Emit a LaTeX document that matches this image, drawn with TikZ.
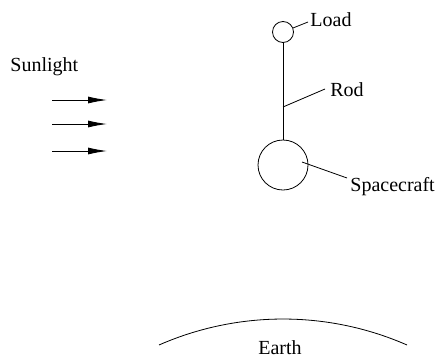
\documentclass[tikz,border=0pt]{standalone}
\usepackage{fontspec}
\setmainfont{Liberation Serif}
\usetikzlibrary{arrows.meta}
\begin{document}
\begin{tikzpicture}[x=1pt,y=-1pt,line width=0.8pt,
  lbl/.style={anchor=base west,inner sep=0pt,font=\fontsize{20}{24}\selectfont},
  ball/.style={circle,draw,inner sep=0pt},
  ray/.style={-{Latex[length=19pt,width=7pt]},line width=0.9pt}]
\useasboundingbox (0,0) rectangle (443,359);

% spacecraft with its tethered load
\node[ball,minimum size=21pt] (load) at (283,32) {};
\node[ball,minimum size=50pt] (craft) at (283,165) {};
\draw (load.south) -- (craft.north);

% labels with leader lines
\node[lbl] (loadlbl) at (310,26) {Load};
\node[lbl] (rodlbl) at (330,96) {Rod};
\node[lbl] (craftlbl) at (350,191) {Spacecraft};
\coordinate (loadtip) at (293,28);
\coordinate (loadend) at (308,22);
\coordinate (rodpt) at (283,107);
\coordinate (rodend) at (325,89);
\coordinate (craftpt) at (302,162);
\coordinate (craftend) at (347,178);
\draw (loadtip) -- (loadend);
\draw (rodpt) -- (rodend);
\draw (craftpt) -- (craftend);

% incoming sunlight
\node[lbl] (sun) at (10,71) {Sunlight};
\foreach \yy [count=\i] in {100,124,151} {
  \coordinate (s\i) at (52,\yy);
  \coordinate (e\i) at (107,\yy);
  \draw[ray] (s\i) -- (e\i);
}

% limb of the Earth
\coordinate (earthc) at (283,628);
\draw (earthc) ++(246.34:309) arc[start angle=246.34,end angle=293.66,radius=309];
\node[lbl,anchor=base] (earth) at (280,354) {Earth};
\end{tikzpicture}
\end{document}
